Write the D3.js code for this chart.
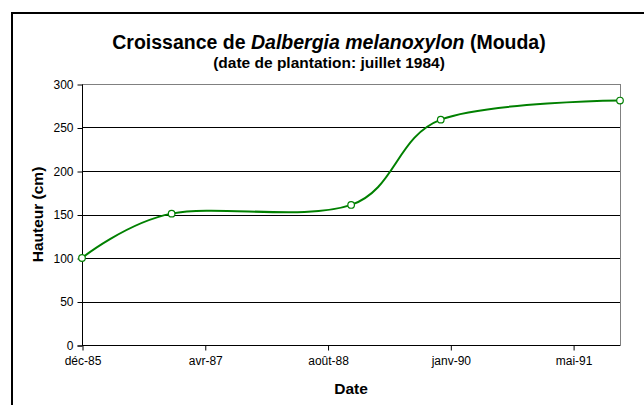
<!DOCTYPE html>
<html>
<head>
<meta charset="utf-8">
<script src="https://cdn.jsdelivr.net/npm/d3@7"></script>
<style>
  html, body { margin: 0; padding: 0; background: #fff; }
  svg { display: block; font-family: "Liberation Sans", Arial, sans-serif; }
</style>
</head>
<body>
<div id="chart"></div>
<script>
// Data
const measureDates = ['1985-12-01', '1986-12-01', '1988-12-01', '1989-12-01', '1991-12-01'];
const heights = [100, 151, 161, 259, 281];
const yTicks = [0, 50, 100, 150, 200, 250, 300];
const xTickDates = ['1985-12-01', '1987-04-15', '1988-08-27', '1990-01-09', '1991-05-24'];
const xTickLabels = ['déc-85', 'avr-87', 'août-88', 'janv-90', 'mai-91'];
const xDomain = ['1985-12-01', '1991-12-01'];
const yDomain = [0, 300];

const parseDate = d3.timeParse('%Y-%m-%d');

class GrowthChart {
  constructor(selector) {
    this.container = d3.select(selector);
    this.width = 644;
    this.height = 405;
    this.plot = { left: 82, right: 620, top: 84, bottom: 345 };
    this.green = '#008000';
  }

  /**
   * Build everything
   */
  render() {
    const svg = this.container.append('svg')
      .attr('width', this.width)
      .attr('height', this.height);

    // Outer chart frame
    svg.append('rect')
      .attr('x', 12).attr('y', 13)
      .attr('width', 650).attr('height', 410)
      .attr('fill', '#fff')
      .attr('stroke', '#000')
      .attr('stroke-width', 2);

    const x = d3.scaleTime()
      .domain(xDomain.map(parseDate))
      .range([this.plot.left, this.plot.right]);
    const y = d3.scaleLinear()
      .domain(yDomain)
      .range([this.plot.bottom, this.plot.top]);

    this.drawTitles(svg);
    this.drawGrid(svg, x, y);
    this.drawAxes(svg, x, y);
    this.drawSeries(svg, x, y);
  }

  drawTitles(svg) {
    const cx = 329;
    const title = svg.append('text')
      .attr('x', cx).attr('y', 48.5)
      .attr('text-anchor', 'middle')
      .attr('font-size', '19.5px')
      .attr('font-weight', 'bold');
    title.append('tspan').text('Croissance de ');
    title.append('tspan').attr('font-style', 'italic').text('Dalbergia melanoxylon');
    title.append('tspan').text(' (Mouda)');

    svg.append('text')
      .attr('x', cx).attr('y', 67.5)
      .attr('text-anchor', 'middle')
      .attr('font-size', '15.5px')
      .attr('font-weight', 'bold')
      .text('(date de plantation: juillet 1984)');

    // Axis titles
    svg.append('text')
      .attr('transform', `translate(37.5, ${(this.plot.top + this.plot.bottom) / 2}) rotate(-90)`)
      .attr('text-anchor', 'middle')
      .attr('dy', '0.35em')
      .attr('font-size', '15.5px')
      .attr('font-weight', 'bold')
      .text('Hauteur (cm)');

    svg.append('text')
      .attr('x', (this.plot.left + this.plot.right) / 2)
      .attr('y', 394)
      .attr('text-anchor', 'middle')
      .attr('font-size', '15.5px')
      .attr('font-weight', 'bold')
      .text('Date');
  }

  drawGrid(svg, x, y) {
    svg.append('g')
      .selectAll('line')
      .data(yTicks.filter(v => v > 0))
      .join('line')
      .attr('x1', this.plot.left).attr('x2', this.plot.right)
      .attr('y1', d => Math.round(y(d)) + 0.5)
      .attr('y2', d => Math.round(y(d)) + 0.5)
      .attr('stroke', d => d === 300 ? '#808080' : '#000')
      .attr('stroke-width', 1);

    // Plot area border on the right
    svg.append('line')
      .attr('x1', this.plot.right + 0.5).attr('x2', this.plot.right + 0.5)
      .attr('y1', this.plot.top).attr('y2', this.plot.bottom)
      .attr('stroke', '#808080');
  }

  drawAxes(svg, x, y) {
    const yAxis = d3.axisLeft(y)
      .tickValues(yTicks)
      .tickSize(5)
      .tickPadding(4)
      .tickFormat(d3.format('d'));

    const gy = svg.append('g')
      .attr('transform', `translate(${this.plot.left + 0.5},0.5)`)
      .call(yAxis);
    gy.select('.domain').attr('d', `M-5,${y(0) + 0.5}H0V${y(300)}`).attr('stroke', '#000');
    gy.selectAll('text').attr('font-size', '12px').attr('font-family', null).attr('fill', '#000');

    const xAxis = d3.axisBottom(x)
      .tickValues(xTickDates.map(parseDate))
      .tickSize(5)
      .tickPadding(6)
      .tickFormat((d, i) => xTickLabels[i]);

    const gx = svg.append('g')
      .attr('transform', `translate(0.5,${Math.round(y(0)) + 0.5})`)
      .call(xAxis);
    gx.select('.domain').attr('d', `M${this.plot.left},0H${this.plot.right}`).attr('stroke', '#000');
    gx.selectAll('text').attr('font-size', '12px').attr('font-family', null).attr('fill', '#000');
  }

  drawSeries(svg, x, y) {
    const points = measureDates.map((d, i) => ({ date: parseDate(d), value: heights[i] }));

    const line = d3.line()
      .x(d => x(d.date))
      .y(d => y(d.value))
      .curve(d3.curveCardinal.tension(0));

    svg.append('path')
      .datum(points)
      .attr('d', line)
      .attr('fill', 'none')
      .attr('stroke', this.green)
      .attr('stroke-width', 2);

    svg.append('g')
      .selectAll('circle')
      .data(points)
      .join('circle')
      .attr('cx', d => x(d.date))
      .attr('cy', d => y(d.value))
      .attr('r', 3.3)
      .attr('fill', '#fff')
      .attr('stroke', this.green)
      .attr('stroke-width', 1.2);
  }
}

const chart = new GrowthChart('#chart');
chart.render();
</script>
</body>
</html>
